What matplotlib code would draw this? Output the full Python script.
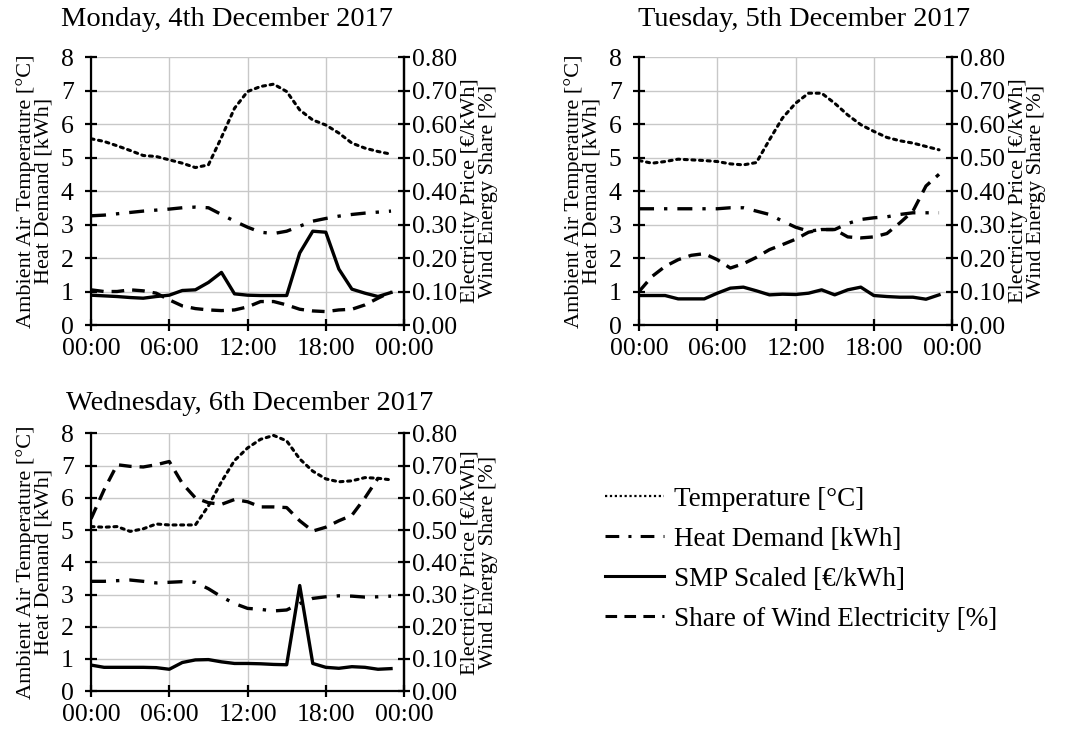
import matplotlib.pyplot as plt
from matplotlib.lines import Line2D

plt.rcParams['font.family'] = ['Liberation Serif', 'DejaVu Serif']

hours = list(range(24))
time_ticks = [0, 6, 12, 18, 24]
time_labels = ['00:00', '06:00', '12:00', '18:00', '00:00']

titles = ['Monday, 4th December 2017',
          'Tuesday, 5th December 2017',
          'Wednesday, 6th December 2017']

# Temperature [°C]
temp_mon = [5.56, 5.48, 5.35, 5.21, 5.06, 5.03, 4.93, 4.83, 4.70, 4.78, 5.60, 6.47,
            6.97, 7.12, 7.19, 6.97, 6.42, 6.12, 5.97, 5.73, 5.43, 5.28, 5.18, 5.10]
temp_tue = [4.91, 4.83, 4.88, 4.95, 4.93, 4.91, 4.88, 4.81, 4.78, 4.85, 5.53, 6.18,
            6.62, 6.92, 6.92, 6.62, 6.27, 5.98, 5.78, 5.60, 5.50, 5.43, 5.33, 5.23]
temp_wed = [5.11, 5.09, 5.11, 4.96, 5.04, 5.19, 5.16, 5.16, 5.16, 5.75, 6.50, 7.16,
            7.55, 7.82, 7.94, 7.77, 7.21, 6.83, 6.59, 6.50, 6.53, 6.63, 6.61, 6.56]

# Heat demand [kWh]
heat_mon = [3.26, 3.28, 3.32, 3.36, 3.40, 3.43, 3.46, 3.50, 3.52, 3.50, 3.30, 3.10,
            2.92, 2.77, 2.73, 2.80, 2.95, 3.10, 3.18, 3.25, 3.30, 3.34, 3.37, 3.40]
heat_tue = [3.47, 3.47, 3.47, 3.47, 3.47, 3.47, 3.47, 3.50, 3.50, 3.40, 3.30, 3.10,
            2.92, 2.80, 2.85, 2.85, 3.03, 3.15, 3.20, 3.23, 3.30, 3.35, 3.35, 3.35]
heat_wed = [3.41, 3.41, 3.43, 3.45, 3.41, 3.36, 3.38, 3.40, 3.38, 3.18, 2.93, 2.72,
            2.57, 2.54, 2.49, 2.52, 2.72, 2.88, 2.93, 2.96, 2.95, 2.92, 2.93, 2.95]

# SMP scaled [€/kWh]
smp_mon = [0.089, 0.087, 0.085, 0.082, 0.080, 0.085, 0.089, 0.103, 0.105, 0.127, 0.157, 0.093,
           0.089, 0.088, 0.088, 0.088, 0.215, 0.280, 0.277, 0.167, 0.107, 0.095, 0.085, 0.097]
smp_tue = [0.088, 0.088, 0.088, 0.078, 0.078, 0.078, 0.095, 0.110, 0.113, 0.102, 0.090, 0.092,
           0.091, 0.095, 0.105, 0.090, 0.105, 0.113, 0.088, 0.085, 0.083, 0.083, 0.077, 0.090]
smp_wed = [0.081, 0.074, 0.074, 0.074, 0.074, 0.073, 0.068, 0.089, 0.097, 0.098, 0.091, 0.086,
           0.086, 0.085, 0.083, 0.082, 0.328, 0.086, 0.074, 0.071, 0.076, 0.074, 0.068, 0.070]

# Share of wind electricity
wind_mon = [0.105, 0.100, 0.100, 0.105, 0.102, 0.095, 0.075, 0.057, 0.049, 0.045, 0.043, 0.045,
            0.054, 0.070, 0.070, 0.060, 0.047, 0.042, 0.040, 0.045, 0.047, 0.060, 0.080, 0.099]
wind_tue = [0.100, 0.145, 0.175, 0.195, 0.208, 0.213, 0.195, 0.170, 0.183, 0.202, 0.225, 0.240,
            0.256, 0.277, 0.285, 0.285, 0.263, 0.260, 0.263, 0.273, 0.305, 0.340, 0.415, 0.450]
wind_wed = [0.535, 0.625, 0.703, 0.698, 0.696, 0.703, 0.713, 0.645, 0.600, 0.585, 0.580, 0.595,
            0.588, 0.572, 0.572, 0.570, 0.529, 0.497, 0.509, 0.529, 0.546, 0.600, 0.661]

days = [
    (titles[0], temp_mon, heat_mon, smp_mon, wind_mon),
    (titles[1], temp_tue, heat_tue, smp_tue, wind_tue),
    (titles[2], temp_wed, heat_wed, smp_wed, wind_wed),
]

# axes rectangles in figure fractions (left, bottom, width, height)
rects = [(0.0853, 0.5554, 0.2934, 0.3666),
         (0.5989, 0.5554, 0.2934, 0.3666),
         (0.0853, 0.0545, 0.2934, 0.3525)]
title_pos = [(0.2132, 0.9730), (0.7535, 0.9730), (0.2338, 0.448)]
xpads = [5, 5, 4.5]

dotted = (0, (1, 1.5))
dashdot = (0, (4.5, 3, 1, 3))
dashed = (0, (3.8, 2.4))
TICK_FS = 18.5
LABEL_FS = 16

fig = plt.figure(figsize=(10.67, 7.31), dpi=100)

for (title, temp, heat, smp, wind), rect, (tx, ty), xpad in zip(days, rects, title_pos, xpads):
    ax = fig.add_axes(rect)
    ax2 = ax.twinx()

    ax.plot(hours, temp, color='black', lw=2.2, linestyle=dotted, dash_capstyle='round')
    ax.plot(hours, heat, color='black', lw=2.4, linestyle=dashdot)
    ax2.plot(hours[:len(smp)], smp, color='black', lw=2.4)
    ax2.plot(hours[:len(wind)], wind, color='black', lw=2.4, linestyle=dashed)

    ax.set_xlim(0, 24)
    ax.set_ylim(0, 8)
    ax2.set_ylim(0, 0.8)
    ax.set_xticks(time_ticks)
    ax.set_xticklabels(time_labels)
    ax.set_yticks(range(0, 9))
    ax2.set_yticks([i / 10 for i in range(9)])
    ax2.set_yticklabels([f'{i / 10:.2f}' for i in range(9)])

    ax.grid(True, color='#c8c8c8', lw=1.0)
    ax.set_axisbelow(True)
    for a in (ax, ax2):
        a.spines['top'].set_visible(False)
        for s in ('left', 'right', 'bottom'):
            a.spines[s].set_linewidth(1.6)
        a.tick_params(direction='inout', length=9, width=1.6, labelsize=TICK_FS)
    ax.tick_params(axis='y', pad=8)
    ax.tick_params(axis='x', pad=xpad)
    ax2.tick_params(axis='y', pad=1)
    ax2.spines['left'].set_visible(False)
    ax2.spines['bottom'].set_visible(False)

    ax.set_ylabel('Ambient Air Temperature [°C]\nHeat Demand [kWh]',
                  fontsize=LABEL_FS, linespacing=0.95, labelpad=5)
    ax2.set_ylabel('Electricity Price [€/kWh]\nWind Energy Share [%]',
                   fontsize=LABEL_FS, linespacing=0.95, labelpad=3)

    fig.text(tx, ty, title, ha='center', va='center', fontsize=20.5)

handles = [
    Line2D([], [], color='black', lw=1.6, linestyle=(0, (1, 1.2))),
    Line2D([], [], color='black', lw=2.2, linestyle=dashdot),
    Line2D([], [], color='black', lw=2.2),
    Line2D([], [], color='black', lw=2.2, linestyle=dashed),
]
labels = ['Temperature [°C]', 'Heat Demand [kWh]', 'SMP Scaled [€/kWh]',
          'Share of Wind Electricity [%]']
fig.legend(handles, labels, loc='center left', bbox_to_anchor=(0.544, 0.235),
           frameon=False, fontsize=19.5, handlelength=2.2, handletextpad=0.35,
           labelspacing=0.55)

fig.savefig('out.png', dpi=100)
